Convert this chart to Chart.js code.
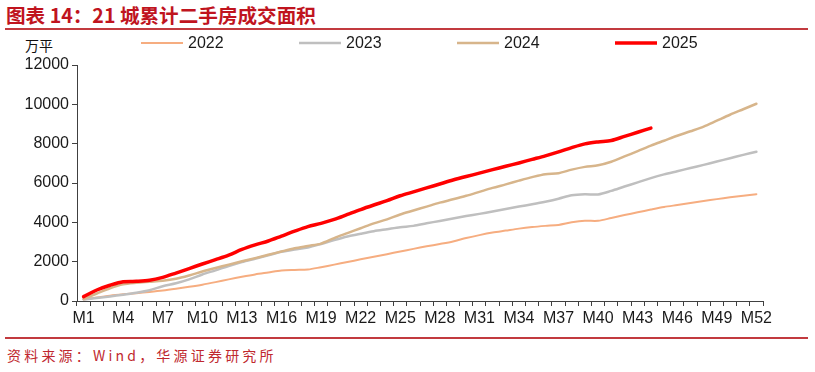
<!DOCTYPE html>
<html>
<head>
<meta charset="utf-8">
<script src="https://cdn.jsdelivr.net/npm/chart.js@4/dist/chart.umd.min.js"></script>
<style>
  body { margin: 0; background: #fff; width: 815px; height: 372px; overflow: hidden; position: relative; font-family: "Liberation Sans", Arial, sans-serif; }
  #title { position: absolute; left: 6px; top: 0px; font: bold 19.6px "Noto Sans CJK SC", sans-serif; color: #c0141e; white-space: nowrap; }
  .rule { position: absolute; left: 5px; width: 803px; height: 2px; background: #c23a3f; }
  #unit { position: absolute; left: 25px; top: 35px; font: 14px "Noto Sans CJK SC", sans-serif; color: #111; }
  #wrap { position: absolute; left: 0; top: 31px; width: 815px; height: 305px; }
  #src { position: absolute; left: 7px; top: 345px; font: 14px "Noto Sans CJK SC", sans-serif; color: #c0282e; letter-spacing: 3.2px; white-space: nowrap; }
</style>
</head>
<body>
<div id="title">图表 14：21 城累计二手房成交面积</div>
<div class="rule" style="top:28px"></div>
<div id="unit">万平</div>
<div id="wrap"><canvas id="c" width="815" height="305"></canvas></div>
<div class="rule" style="top:337px"></div>
<div id="src">资料来源：Wind，华源证券研究所</div>
<script>
// weeks M1..M52
const weeks = Array.from({ length: 52 }, (_, i) => 'M' + (i + 1));

// cumulative area, 万平
const y2022 = [80,180,270,340,400,460,530,620,720,830, 960,1100,1230,1350,1450,1550,1580,1600,1720,1850,
  1980,2120,2250,2380,2520,2650,2780,2900,3030,3200, 3350,3480,3580,3680,3760,3820,3870,4000,4080,4080,
  4220,4370,4510,4650,4780,4880,4980,5080,5180,5270, 5350,5430];
const y2023 = [80,150,230,320,420,550,750,900,1100,1350, 1560,1780,1980,2150,2320,2500,2620,2720,2900,3100,
  3280,3420,3550,3650,3750,3820,3950,4070,4200,4320, 4430,4550,4680,4800,4920,5050,5200,5380,5430,5420,
  5600,5820,6030,6250,6440,6600,6760,6920,7090,7260, 7430,7590];
const y2024 = [100,380,650,850,930,980,1030,1130,1300,1500, 1680,1850,2020,2180,2350,2520,2680,2800,2920,3200,
  3450,3700,3950,4150,4400,4600,4800,5000,5170,5350, 5550,5750,5930,6120,6300,6450,6500,6680,6820,6900,
  7080,7350,7620,7900,8150,8400,8630,8870,9170,9470, 9750,10030];
const y2025 = [220,560,800,980,1000,1050,1200,1420,1650,1880, 2100,2330,2620,2850,3050,3300,3550,3780,3950,4150,
  4400,4650,4880,5100,5350,5550,5750,5950,6150,6330, 6500,6680,6850,7020,7200,7380,7580,7800,7990,8090,
  8160,8370,8580,8790];

const yTicks = { min: 0, max: 12000, step: 2000 };

const txt = '#1a1a1a';
const axisCol = '#404040';
const font16 = { family: '"Liberation Sans", Arial, sans-serif', size: 16 };

// legend drawn as line samples across the top
const lineLegend = {
  id: 'lineLegend',
  afterDraw(chart) {
    const ctx = chart.ctx;
    chart.data.datasets.forEach((ds, i) => {
      const x = 141 + i * 158, y = 12;
      ctx.save();
      ctx.strokeStyle = ds.borderColor;
      ctx.lineWidth = ds.borderWidth;
      ctx.beginPath(); ctx.moveTo(x, y); ctx.lineTo(x + 42, y); ctx.stroke();
      ctx.fillStyle = txt;
      ctx.font = '16px "Liberation Sans", Arial, sans-serif';
      ctx.textBaseline = 'middle';
      ctx.fillText(ds.label, x + 47, y + 1);
      ctx.restore();
    });
  }
};

new Chart(document.getElementById('c'), {
  type: 'line',
  data: {
    labels: weeks,
    datasets: [
      { label: '2022', data: y2022, borderColor: '#f6ad80', borderWidth: 2, order: 3 },
      { label: '2023', data: y2023, borderColor: '#bfbfbf', borderWidth: 2.5, order: 2 },
      { label: '2024', data: y2024, borderColor: '#d7b58b', borderWidth: 2.5, order: 1 },
      { label: '2025', data: y2025, borderColor: '#ff0000', borderWidth: 3.5, order: 0 }
    ]
  },
  options: {
    responsive: false, animation: false, devicePixelRatio: 1,
    layout: { padding: { top: 34, right: 52, bottom: 0, left: 0 } },
    elements: { point: { radius: 0 }, line: { tension: 0.3, borderCapStyle: 'round', borderJoinStyle: 'round' } },
    plugins: { legend: { display: false }, tooltip: { enabled: false } },
    scales: {
      x: {
        offset: true,
        grid: { display: true, drawOnChartArea: false, drawTicks: true, tickLength: 5, color: axisCol, offset: true },
        border: { display: true, color: axisCol, width: 1 },
        ticks: { autoSkip: false, maxRotation: 0, color: txt, font: font16, padding: 3,
          callback: (v, i) => (i % 3 === 0 ? weeks[i] : '') },
        afterFit: s => { s.height = 35; }
      },
      y: {
        min: yTicks.min, max: yTicks.max,
        grid: { display: true, drawOnChartArea: false, drawTicks: true, tickLength: 5, color: axisCol },
        border: { display: true, color: axisCol, width: 1 },
        ticks: { stepSize: yTicks.step, color: txt, font: font16, padding: 3, callback: v => String(v) },
        afterFit: s => { s.width = 77; }
      }
    }
  },
  plugins: [lineLegend]
});
</script>
</body>
</html>
